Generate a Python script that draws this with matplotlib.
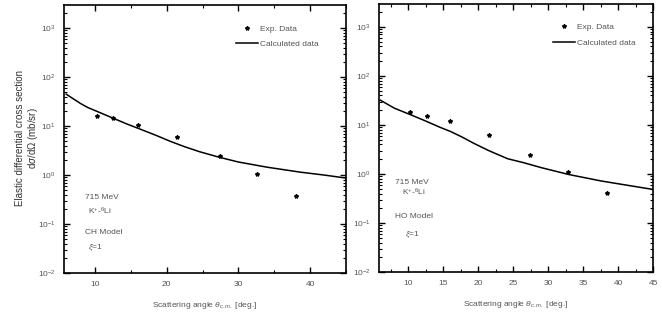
import matplotlib
matplotlib.use("Agg")
import matplotlib.pyplot as plt
from matplotlib.ticker import LogLocator, MultipleLocator, NullFormatter

plt.rcParams['font.family'] = ['Liberation Sans', 'DejaVu Sans']
plt.rcParams['mathtext.fontset'] = 'custom'
plt.rcParams['mathtext.rm'] = 'Liberation Sans'
plt.rcParams['mathtext.it'] = 'Liberation Sans:italic'

# experimental points (same data in both panels)
exp_angle_ch = [10.3, 12.5, 16.0, 21.5, 27.4, 32.6, 38.0]
exp_xsec_ch = [16.0, 14.6, 10.5, 6.0, 2.4, 1.05, 0.37]
exp_angle_ho = [10.3, 12.6, 16.0, 21.6, 27.4, 32.9, 38.4]
exp_xsec_ho = [18.4, 15.2, 12.0, 6.2, 2.4, 1.1, 0.41]

# calculated curves
calc_angle_ch = [6.0, 7.0, 8.0, 9.0, 10.3, 12.5, 14.5, 16.3, 18.5, 20.5, 22.5, 24.6,
                 27.4, 30.0, 34.0, 38.6, 42.0, 45.0]
calc_xsec_ch = [45.0, 36.0, 29.0, 24.0, 20.0, 14.6, 11.0, 8.7, 6.5, 4.9, 3.8, 3.0,
                2.3, 1.85, 1.45, 1.15, 1.0, 0.87]
calc_angle_ho = [6.0, 8.0, 10.4, 12.5, 14.5, 16.0, 17.6, 19.4, 21.5, 24.2, 26.5, 29.0,
                 32.9, 37.6, 41.0, 44.8]
calc_xsec_ho = [32.0, 22.0, 16.0, 12.0, 9.0, 7.4, 5.75, 4.2, 3.0, 2.05, 1.7, 1.35,
                0.98, 0.72, 0.6, 0.49]

txt = '#333333'
grey = '#555555'
fig = plt.figure(figsize=(6.62, 3.22), dpi=100)
ax1 = fig.add_axes([0.0967, 0.152, 0.426, 0.832])
ax2 = fig.add_axes([0.5725, 0.155, 0.414, 0.833])

panels = [
    (ax1, exp_angle_ch, exp_xsec_ch, calc_angle_ch, calc_xsec_ch, 10, 5, 5.7, 0.93),
    (ax2, exp_angle_ho, exp_xsec_ho, calc_angle_ho, calc_xsec_ho, 5, 2.5, 5.8, 0.965),
]

for ax, ea, ex, ca, cx, major, minor, x0, legx in panels:
    ax.plot(ea, ex, linestyle='none', marker='*', color='black', markersize=3, label='Exp. Data')
    ax.plot(ca, cx, color='black', linewidth=1.1, label='Calculated data')
    ax.set_yscale('log')
    ax.set_xlim(x0, 45)
    ax.set_ylim(1e-2, 2950)
    ax.xaxis.set_major_locator(MultipleLocator(major))
    ax.xaxis.set_minor_locator(MultipleLocator(minor))
    ax.yaxis.set_major_locator(LogLocator(base=10, numticks=10))
    ax.yaxis.set_minor_locator(LogLocator(base=10, subs=range(2, 10), numticks=10))
    ax.yaxis.set_minor_formatter(NullFormatter())
    ax.tick_params(which='both', direction='in', top=True, right=True,
                   labelsize=6, labelcolor=grey, pad=6)
    ax.tick_params(which='major', length=4, width=1)
    ax.tick_params(which='minor', length=2, width=0.8)
    for s in ax.spines.values():
        s.set_linewidth(1.2)
    ax.set_xlabel(r'Scattering angle $\theta_{c.m.}$ [deg.]', fontsize=6, color=grey, labelpad=8)
    leg = ax.legend(loc='upper right', bbox_to_anchor=(legx, 0.955), frameon=False,
                    fontsize=6, handlelength=2.6, handletextpad=0.3, labelspacing=0.9)
    for t in leg.get_texts():
        t.set_color(grey)

ax1.text(0.075, 0.275, '715 MeV', transform=ax1.transAxes, fontsize=6, color=grey)
ax1.text(0.085, 0.22, r'K$^{+}$-$^{6}$Li', transform=ax1.transAxes, fontsize=6, color=grey)
ax1.text(0.075, 0.145, 'CH Model', transform=ax1.transAxes, fontsize=6, color=grey)
ax1.text(0.085, 0.09, r'$\xi$=1', transform=ax1.transAxes, fontsize=6, color=grey)

ax2.text(0.06, 0.33, '715 MeV', transform=ax2.transAxes, fontsize=6, color=grey)
ax2.text(0.085, 0.285, r'K$^{+}$-$^{6}$Li', transform=ax2.transAxes, fontsize=6, color=grey)
ax2.text(0.06, 0.2, 'HO Model', transform=ax2.transAxes, fontsize=6, color=grey)
ax2.text(0.095, 0.135, r'$\xi$=1', transform=ax2.transAxes, fontsize=6, color=grey)

fig.text(0.03, 0.57, 'Elastic differential cross section', rotation=90, ha='center', va='center',
         fontsize=7, color=txt)
fig.text(0.05, 0.57, r'd$\sigma$/d$\Omega$ (mb/sr)', rotation=90, ha='center', va='center',
         fontsize=7, color=txt)

fig.savefig('out.png', dpi=100)
